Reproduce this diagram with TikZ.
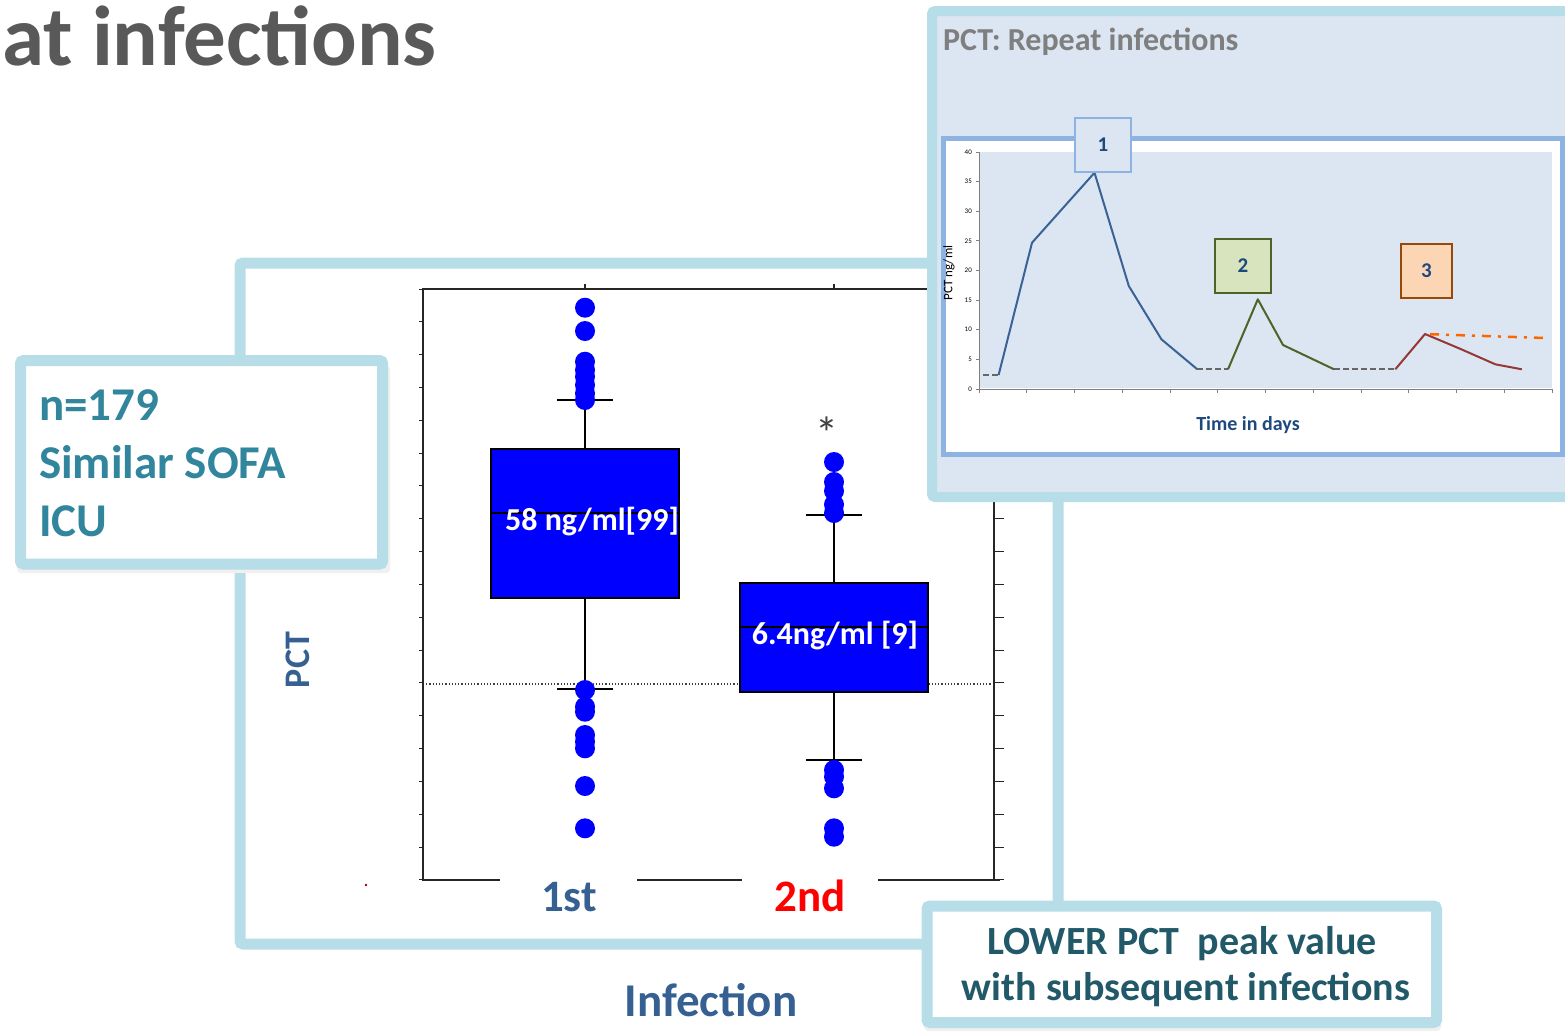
\documentclass[tikz,border=0pt]{standalone}
\usepackage{fontspec}
\setmainfont{Carlito}

\definecolor{framecol}{HTML}{B7DDE8}
\definecolor{insetbg}{HTML}{DCE6F2}
\definecolor{chartedge}{HTML}{8DB3E2}
\definecolor{tealtext}{HTML}{31859C}
\definecolor{darkteal}{HTML}{215968}
\definecolor{steel}{HTML}{376092}
\definecolor{navy}{HTML}{1F497D}
\definecolor{titlegray}{HTML}{595959}
\definecolor{headgray}{HTML}{7F7F7F}
\definecolor{dotblue}{HTML}{0000FF}
\definecolor{lineblue}{HTML}{3A6296}
\definecolor{lineolive}{HTML}{4F6228}
\definecolor{linered}{HTML}{953735}
\definecolor{lineorange}{HTML}{FF6600}
\definecolor{olivefill}{HTML}{D7E4BD}
\definecolor{peachfill}{HTML}{FCD5B5}
\definecolor{peachedge}{HTML}{984807}

\newcommand\fsz[1]{\fontsize{#1}{#1}\selectfont}

\begin{document}
\begin{tikzpicture}[x=1pt,y=-1pt,
  txt/.style={inner sep=0pt},
  panel/.style={line width=11pt, draw=framecol, fill=white, rounded corners=3pt},
  axisline/.style={line width=1.3pt, draw=black!85},
  whisker/.style={line width=1.3pt, draw=black},
  dot/.style={fill=dotblue},
  boxfill/.style={fill=dotblue, draw=black, line width=1.3pt},
  series/.style={line width=2pt, line join=round},
  gap/.style={line width=2pt, draw=black!60, dash pattern=on 6pt off 3pt},
  tag/.style={line width=2.5pt, inner sep=0pt, font=\bfseries\fsz{21}, text=navy, minimum height=54pt}
]
\useasboundingbox (0,0) rectangle (1565,1031);
\clip (0,0) rectangle (1565,1031);

% heading
\node[txt, anchor=base west, text=titlegray, font=\bfseries\fsz{85}] (title) at (2,65) {at infections};

% main chart panel
\draw[panel] (240,263) rectangle (1058,944);

% box plot axes
\draw[dotted, draw=black!75, line width=1.2pt] (423,684) -- (994,684);
\draw[axisline] (1000,880) -- (994,880) -- (994,289) -- (423,289) -- (423,880) -- (500,880);
\draw[axisline] (637,880) -- (742,880);
\draw[axisline] (878,880) -- (1000,880);
\foreach \k in {0,...,18}{
  \draw[axisline, line width=1pt] (994,{289+\k*32.83}) -- (1004,{289+\k*32.83});
  \draw[axisline, line width=1pt] (419,{289+\k*32.83}) -- (423,{289+\k*32.83});
}
\draw[axisline] (585,289) -- (585,284);
\draw[axisline] (834,289) -- (834,284);

% first infection
\draw[whisker] (585,400) -- (585,689);
\draw[whisker] (557,400) -- (613,400);
\draw[whisker] (557,689) -- (613,689);
\draw[boxfill] (491,449) rectangle (679,598);
\draw[whisker] (491,513) -- (679,513);
\foreach \y in {307.7,331,361.7,370,376.7,385,393.3,400,690,706.7,711.7,735,741.7,748.3,786,828.3}
  \fill[dot] (585,\y) circle (10);

% second infection
\draw[whisker] (834,515) -- (834,760);
\draw[whisker] (806,515) -- (862,515);
\draw[whisker] (806,760) -- (862,760);
\draw[boxfill] (740,583) rectangle (928,692);
\draw[whisker] (740,627) -- (928,627);
\foreach \y in {462,482,491,504.5,513,770,776.7,788.3,828.3,836.7}
  \fill[dot] (834,\y) circle (10);

\node[txt, text=black!75, font=\fsz{46}] (star) at (827,433) {*};

\node[txt, anchor=base, text=white, font=\bfseries\fsz{32}] (med1) at (592,530) {58 ng/ml[99]};
\node[txt, anchor=base, text=white, font=\bfseries\fsz{32}] (med2) at (835,644) {6.4ng/ml [9]};

\node[txt, anchor=base, text=steel, font=\bfseries\fsz{45}] (first) at (569,911) {1st};
\node[txt, anchor=base, text=red, font=\bfseries\fsz{45}] (second) at (810,911) {2nd};
\node[txt, rotate=90, text=steel, font=\bfseries\fsz{36}] (pct) at (298,660) {PCT};
\node[txt, anchor=base, text=steel, font=\bfseries\fsz{47}] (infection) at (711,1016) {Infection};
\fill[red!60!black] (366,885) circle (1.3);

% repeat-infection inset
\draw[line width=10pt, draw=framecol, fill=insetbg, rounded corners=3pt] (932,11) rectangle (1580,497);
\node[txt, anchor=base west, text=headgray, font=\bfseries\fsz{32}] (insettitle) at (943,50) {PCT: Repeat infections};
\draw[line width=5pt, draw=chartedge, fill=white] (943,138.5) rectangle (1562,454.5);
\fill[insetbg] (979,152) rectangle (1552,388);
\draw[black!50, line width=0.8pt] (979,152) -- (979,389) -- (1552,389);
\foreach \v in {0,...,8}{
  \draw[black!50, line width=0.8pt] (976,{389-\v*29.63}) -- (979,{389-\v*29.63});
  \node[txt, anchor=east, font=\fsz{7}] (yt\v) at (972,{389-\v*29.63}) {\the\numexpr\v*5\relax};
}
\foreach \i in {0,...,12}
  \draw[black!50, line width=0.8pt] ({979+\i*47.75},389) -- ({979+\i*47.75},393);

\draw[gap] (983,375) -- (998.6,375);
\draw[series, lineblue] (998.6,375) -- (1032,242.7) -- (1094.5,172.7) -- (1128.8,286) -- (1161.4,339.3) -- (1197.3,369.3);
\draw[gap] (1197.3,369.3) -- (1228,369.3);
\draw[series, lineolive] (1228,369.3) -- (1257.8,299.3) -- (1283,345) -- (1334,369.3);
\draw[gap] (1334,369.3) -- (1395.3,369.3);
\draw[series, linered] (1395.3,369.3) -- (1425,334) -- (1460.6,349) -- (1495.3,364.3) -- (1521.8,369.3);
\draw[series, lineorange, line width=2.5pt, dash pattern=on 9pt off 7pt on 3pt off 7pt] (1430,334.2) -- (1545,338);

\node[tag, draw=chartedge, fill=insetbg, minimum width=56pt] (tag1) at (1103,145) {1};
\node[tag, draw=lineolive, fill=olivefill, minimum width=56pt] (tag2) at (1243,266) {2};
\node[tag, draw=peachedge, fill=peachfill, minimum width=51pt] (tag3) at (1426.5,271) {3};

\node[txt, rotate=90, font=\fsz{13}] (ylab) at (949,273) {PCT ng/ml};
\node[txt, anchor=base, text=navy, font=\bfseries\fsz{20}] (xlab) at (1248,430) {Time in days};

% cohort box
\fill[black!6, rounded corners=4pt] (17,366) rectangle (390,573);
\draw[panel] (20.5,360.5) rectangle (382.5,564);
\node[txt, anchor=base west, text=tealtext, font=\bfseries\fsz{47}] (n) at (39,420) {n=179};
\node[txt, anchor=base west, text=tealtext, font=\bfseries\fsz{47}] (sofa) at (39,478) {Similar SOFA};
\node[txt, anchor=base west, text=tealtext, font=\bfseries\fsz{47}] (icu) at (39,536) {ICU};

% conclusion box
\fill[black!6, rounded corners=4pt] (924,912) rectangle (1441,1031);
\draw[panel] (927,906) rectangle (1436.5,1022.5);
\node[txt, anchor=base, text=darkteal, font=\bfseries\fsz{40}] (lower1) at (1182,954) {LOWER PCT\ \ peak value};
\node[txt, anchor=base, text=darkteal, font=\bfseries\fsz{40}] (lower2) at (1186,1000) {with subsequent infections};
\end{tikzpicture}
\end{document}
